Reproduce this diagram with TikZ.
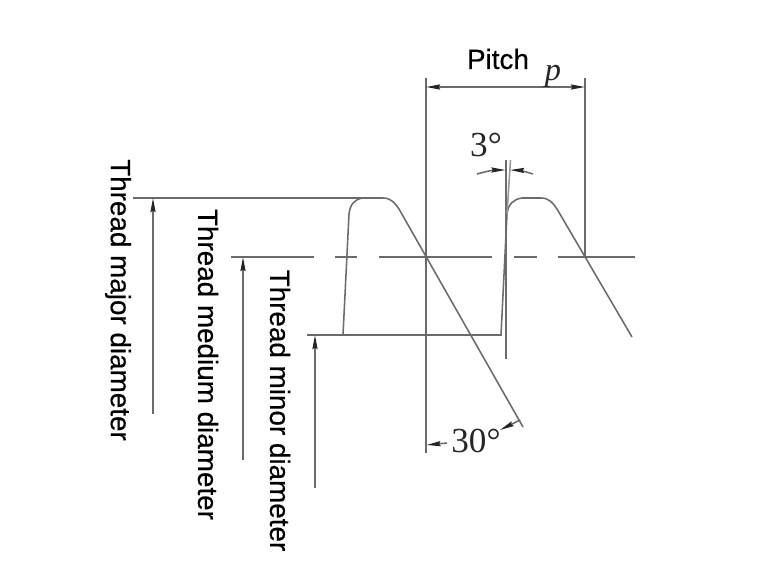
\documentclass[tikz,border=0pt]{standalone}
\usepackage{fontspec}
\setmainfont{Liberation Sans}
\newfontfamily\labelfont{Liberation Sans}[FakeBold=0.35]
\newfontfamily\serifnum{Liberation Serif}
\usetikzlibrary{arrows.meta}
\definecolor{inkgray}{gray}{0.42}
\tikzset{
    threadline/.style={draw=inkgray, line width=1.1pt},
    dimtip/.tip={Stealth[length=10pt,width=3.6pt,inset=1pt,color=black!85]},
    dimarrow/.style={threadline, -dimtip},
    dimlabel/.style={font=\labelfont\fontsize{19.8}{24}\selectfont, text=black, inner sep=0pt},
    anglelabel/.style={font=\serifnum\fontsize{25}{30}\selectfont, text=black!85, inner sep=0pt},
}
\begin{document}
\begin{tikzpicture}[x=0.025cm, y=-0.025cm]
    \useasboundingbox (0,0) rectangle (780,573);
    % center line
    \foreach \a/\b in {231/314, 335/357, 379/492, 514/537, 558/635}
        \draw[threadline] (\a,257) -- (\b,257);

    % thread profile
    \draw[threadline] (133,198) -- (383,198) .. controls (391,198) and (395,203) .. (399,209) -- (523,427);
    \draw[threadline] (343,335) -- (349,214) .. controls (350,204) and (355,199) .. (363,198);
    \draw[threadline] (307,335) -- (501,335) -- (507,214) .. controls (508,204) and (514,199) .. (522,198)
        -- (541,198) .. controls (549,198) and (553,203) .. (557,209) -- (632,337);

    % extension lines
    \draw[threadline] (426,78) -- (426,453);
    \draw[threadline] (585,78) -- (585,258);
    \draw[threadline] (506,160) -- (506,359);
    \draw[threadline, draw=inkgray!70] (510.5,160) -- (507,214);

    % pitch
    \draw[threadline, dimtip-dimtip] (426,87) -- (585,87);
    \node[dimlabel] (pitch) at (498,59) {Pitch};
    \node[font=\serifnum\itshape\fontsize{23}{28}\selectfont, text=black!85, inner sep=0pt, anchor=base] (pitchsym) at (553,80) {p};

    % angles
    \node[anglelabel] (draft) at (486,145) {3°};
    \draw[dimarrow] (477,174) to[bend left=8] (505.5,170);
    \draw[dimarrow] (533,174) to[bend right=8] (510,170);
    \node[anglelabel] (flank) at (476,441) {30°};
    \draw[dimarrow] (447,443) -- (426.5,445);
    \draw[dimarrow] (520,420) -- (500,430);

    % leaders with labels
    \foreach \x/\top/\bot in {153/198/414, 243/257/460, 315/335/488}
        \draw[dimarrow] (\x,\bot) -- (\x,\top);
    \foreach \x/\y/\name/\txt in {118/300/major/Thread major diameter, 208/364.5/medium/Thread medium diameter, 280/410.5/minor/Thread minor diameter}
        \node[dimlabel, rotate=-90] (\name) at (\x,\y) {\txt};
\end{tikzpicture}
\end{document}
